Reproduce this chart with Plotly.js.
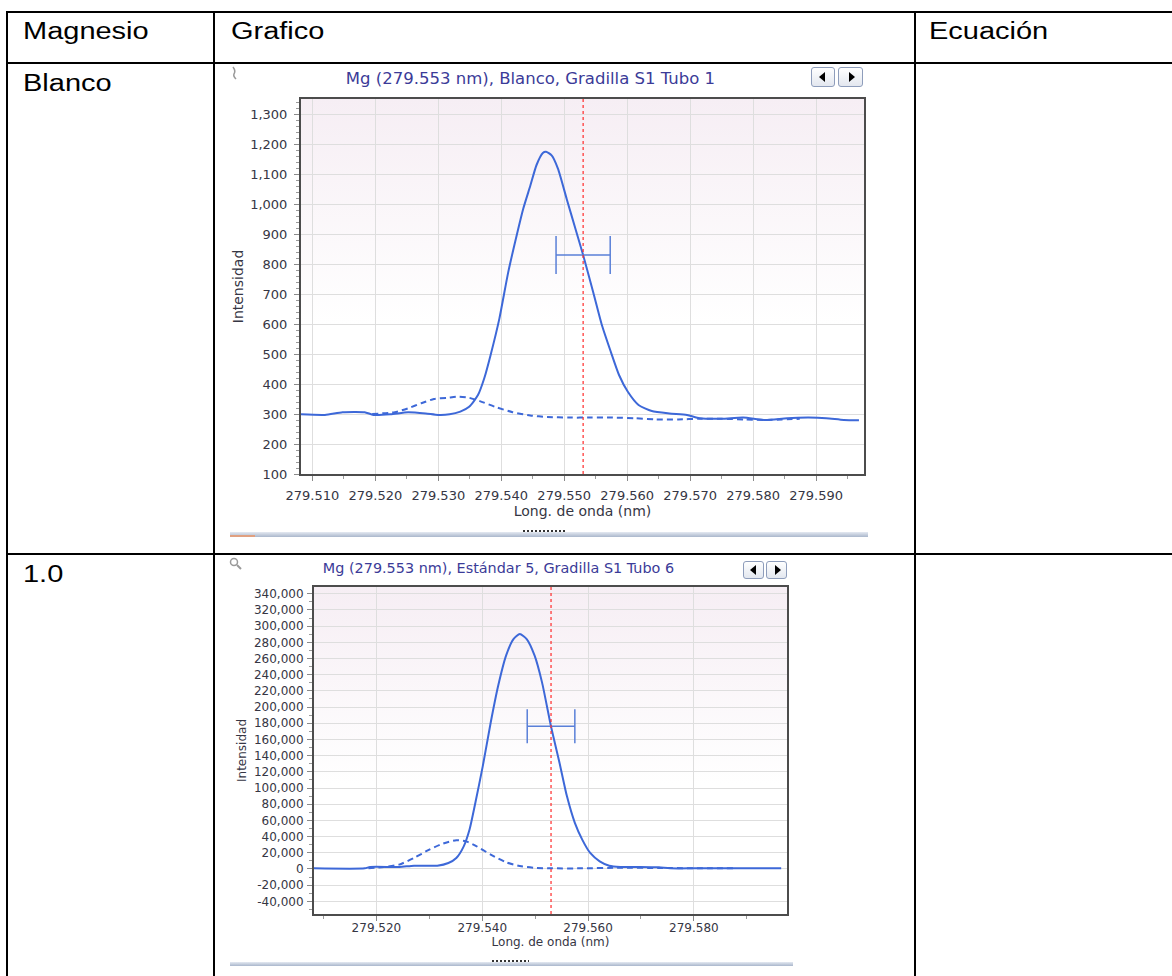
<!DOCTYPE html>
<html>
<head>
<meta charset="utf-8">
<script src="https://cdn.plot.ly/plotly-3.0.1.min.js"></script>
<style>
  html, body { margin:0; padding:0; background:#fff; }
  body { width:1172px; height:976px; overflow:hidden; position:relative; font-family:"Liberation Sans", Arial, sans-serif; }
  .ln { position:absolute; background:#000; }
  .tx { position:absolute; font-size:23px; line-height:23px; color:#000; white-space:nowrap; transform:scaleX(1.26); transform-origin:0 0; }
  .chart { position:absolute; }
  .btn { position:absolute; box-sizing:border-box; border:1px solid #8e9dbb; border-radius:3px;
         background:linear-gradient(#ffffff,#e3e7ef); }
  .tri-l, .tri-r { position:absolute; width:0; height:0; top:50%; left:50%; }
  .tri-l { border-top:5px solid transparent; border-bottom:5px solid transparent; border-right:6px solid #000; margin:-5px 0 0 -4px; }
  .tri-r { border-top:5px solid transparent; border-bottom:5px solid transparent; border-left:6px solid #000; margin:-5px 0 0 -2px; }
  .bar { position:absolute; background:linear-gradient(#e4e9f1,#aab7cc); }
  .grip { position:absolute; height:2px; background:repeating-linear-gradient(90deg,#333 0 2px,transparent 2px 4px); }
  .mag { position:absolute; }
</style>
</head>
<body>
<!-- table grid -->
<div class="ln" style="left:6px; top:11px; width:1166px; height:2px;"></div>
<div class="ln" style="left:6px; top:11px; width:2px; height:965px;"></div>
<div class="ln" style="left:213px; top:11px; width:2px; height:965px;"></div>
<div class="ln" style="left:914px; top:11px; width:2px; height:965px;"></div>
<div class="ln" style="left:6px; top:62px; width:1166px; height:2px;"></div>
<div class="ln" style="left:6px; top:553px; width:1166px; height:2px;"></div>

<div class="tx" style="left:23px; top:20px;">Magnesio</div>
<div class="tx" style="left:231px; top:20px;">Grafico</div>
<div class="tx" style="left:929px; top:20px;">Ecuación</div>
<div class="tx" style="left:23px; top:72px;">Blanco</div>
<div class="tx" style="left:23px; top:563px;">1.0</div>

<!-- chart 1 decorations -->
<svg class="mag" style="left:229px; top:66px;" width="12" height="14"><path d="M4 1 Q7 5 5 8 Q4 10 7 13" stroke="#9a9a9a" stroke-width="1.5" fill="none"/></svg>
<div id="c1" class="chart" style="left:230px; top:63px; width:640px; height:480px;"></div>
<div class="btn" style="left:811px; top:67px; width:24px; height:20px;"><div class="tri-l"></div></div>
<div class="btn" style="left:838px; top:67px; width:25px; height:20px;"><div class="tri-r"></div></div>
<div class="bar" style="left:230px; top:532px; width:638px; height:5px;"></div>
<div style="position:absolute; left:230px; top:535px; width:25px; height:2px; background:#e0a080;"></div>
<div class="grip" style="left:523px; top:530px; width:43px;"></div>

<!-- chart 2 decorations -->
<svg class="mag" style="left:229px; top:557px;" width="14" height="14"><circle cx="5" cy="5" r="3.5" stroke="#9a9a9a" stroke-width="1.5" fill="none"/><path d="M8 8 L12 12" stroke="#9a9a9a" stroke-width="2"/></svg>
<div id="c2" class="chart" style="left:230px; top:556px; width:565px; height:420px;"></div>
<div class="btn" style="left:743px; top:561px; width:21px; height:18px;"><div class="tri-l"></div></div>
<div class="btn" style="left:766px; top:561px; width:21px; height:18px;"><div class="tri-r"></div></div>
<div class="bar" style="left:230px; top:962px; width:563px; height:4px;"></div>
<div class="grip" style="left:492px; top:960px; width:37px;"></div>

<script>
// ---------------- DATA ----------------
const centerWl = 279.553;

// Blanco (Gradilla S1 Tubo 1)
const blancoWl = [279.5082, 279.5120, 279.5148, 279.5183, 279.5197, 279.5224, 279.5252, 279.5280, 279.5300, 279.5318,
                  279.5335, 279.5349, 279.5363, 279.5373, 279.5383, 279.5397, 279.5411, 279.5425, 279.5435, 279.5446,
                  279.5456, 279.5466, 279.5471, 279.5480, 279.5490, 279.5504, 279.5518, 279.5530, 279.5546, 279.5560,
                  279.5574, 279.5587, 279.5601, 279.5618, 279.5639, 279.5667, 279.5695, 279.5715, 279.5750, 279.5784,
                  279.5819, 279.5854, 279.5888, 279.5916, 279.5944, 279.5968];
const blancoInt = [299, 297, 306, 306, 297, 299, 306, 302, 297, 299,
                   308, 324, 363, 419, 496, 618, 772, 900, 985, 1060,
                   1130, 1170, 1174, 1162, 1118, 1016, 916, 830, 706, 595,
                   507, 430, 374, 330, 310, 302, 297, 286, 284, 288,
                   280, 286, 288, 286, 280, 279];
const blancoFitWl = [279.5195, 279.5231, 279.5252, 279.5273, 279.5293, 279.5314, 279.5331, 279.5349, 279.5366, 279.5390,
                     279.5418, 279.5446, 279.5473, 279.5508, 279.5542, 279.5577, 279.5612, 279.5646, 279.5681, 279.5715,
                     279.5750, 279.5785, 279.5819, 279.5874];
const blancoFitInt = [300, 306, 319, 336, 350, 354, 358, 354, 343, 324,
                      306, 295, 290, 288, 288, 288, 286, 282, 282, 284,
                      284, 282, 280, 284];
const blancoMarkInt = [830];
const blancoMarkHalf = [0.0043];
const blancoXTicks = [279.510, 279.520, 279.530, 279.540, 279.550, 279.560, 279.570, 279.580, 279.590];
const blancoYTicks = [100, 200, 300, 400, 500, 600, 700, 800, 900, 1000, 1100, 1200, 1300];

// Estándar 5 (Gradilla S1 Tubo 6)
const stdWl = [279.5082, 279.5178, 279.5188, 279.5243, 279.5271, 279.5315, 279.5336, 279.5351, 279.5365, 279.5376,
               279.5387, 279.5401, 279.5416, 279.5430, 279.5445, 279.5459, 279.5471, 279.5484, 279.5499, 279.5513,
               279.5530, 279.5546, 279.5560, 279.5575, 279.5589, 279.5604, 279.5622, 279.5640, 279.5661, 279.5697,
               279.5734, 279.5755, 279.5806, 279.5965];
const stdInt = [800, 800, 2500, 2500, 4100, 4100, 7400, 13600, 28000, 48700,
                81800, 127000, 181000, 226000, 263500, 284000, 290300, 284000, 263500, 230500,
                176000, 131300, 90000, 57000, 36300, 19800, 9500, 4100, 2500, 2500,
                2000, 800, 800, 800];
const stdFitWl = [279.5185, 279.5214, 279.5243, 279.5271, 279.5300, 279.5326, 279.5351, 279.5369, 279.5387, 279.5416,
                  279.5445, 279.5474, 279.5503, 279.5531, 279.5589, 279.5661, 279.5734, 279.5878];
const stdFitInt = [800, 2500, 5400, 13600, 24000, 31400, 35500, 34300, 28900, 17800,
                   8300, 3300, 1200, 800, 800, 1600, 1200, 800];
const stdMarkInt = [176400];
const stdMarkHalf = [0.0045];
const stdXTicks = [279.520, 279.540, 279.560, 279.580];
const stdYTicks = [-40000, -20000, 0, 20000, 40000, 60000, 80000, 100000, 120000, 140000, 160000, 180000,
                   200000, 220000, 240000, 260000, 280000, 300000, 320000, 340000];

// ---------------- HELPERS ----------------
const fmtThousands = v => (v < 0 ? '-' : '') + Math.abs(v).toString().replace(/\B(?=(\d{3})+(?!\d))/g, ',');
const BLUE = '#3d68d8';
const BAR_BLUE = '#5a80d8';
const TXT = '#363644';
const FONT = '"DejaVu Sans", Verdana, sans-serif';

const bgSvg = '<svg xmlns="http://www.w3.org/2000/svg" width="10" height="100" viewBox="0 0 10 100" preserveAspectRatio="none">' +
  '<defs><linearGradient id="g" x1="0" y1="0" x2="0" y2="1"><stop offset="0" stop-color="#f6eef4"/>' +
  '<stop offset="0.6" stop-color="#ffffff"/></linearGradient></defs><rect width="10" height="100" fill="url(#g)"/></svg>';
const bgSrc = 'data:image/svg+xml;charset=utf-8,' + encodeURIComponent(bgSvg);

function build(div, o) {
  const traces = [
    { x: o.wl, y: o.inten, type: 'scatter', mode: 'lines',
      line: { color: BLUE, width: 2, shape: 'spline', smoothing: 0.6 }, hoverinfo: 'skip' },
    { x: o.fitWl, y: o.fitInt, type: 'scatter', mode: 'lines',
      line: { color: BLUE, width: 2, dash: '6px,4px', shape: 'spline', smoothing: 0.6 }, hoverinfo: 'skip' },
    { x: [centerWl], y: o.markInt, type: 'scatter', mode: 'markers',
      marker: { size: 1, color: 'rgba(0,0,0,0)' },
      error_x: { type: 'data', array: o.markHalf, visible: true, color: BAR_BLUE, thickness: 1.5, width: o.capW },
      hoverinfo: 'skip' }
  ];
  const layout = {
    width: o.w, height: o.h,
    margin: o.margin,
    paper_bgcolor: 'rgba(0,0,0,0)',
    plot_bgcolor: 'rgba(0,0,0,0)',
    showlegend: false,
    title: { text: o.title, x: o.tx, y: o.ty, xref: 'container', yref: 'container',
             xanchor: 'center', yanchor: 'middle', font: { family: FONT, size: o.titleSize, color: '#3b3b98' } },
    font: { family: FONT, color: TXT },
    xaxis: {
      range: [279.5082, 279.5976], tickmode: 'array', tickvals: o.xTicks, ticktext: o.xTicks.map(v => v.toFixed(3)),
      showgrid: true, gridcolor: '#dedede', gridwidth: 1, zeroline: false,
      showline: true, linecolor: '#4c4c4c', linewidth: 2, mirror: true,
      ticks: 'outside', ticklen: 5, tickcolor: '#8a8a8a', tickwidth: 1,
      minor: { dtick: o.xMinor, tick0: 279.5, ticks: 'outside', ticklen: 3, tickcolor: '#9a9a9a', showgrid: false },
      tickfont: { family: FONT, size: o.tickSize, color: TXT },
      ticklabelstandoff: o.xLabStand,
      title: { text: 'Long. de onda (nm)', standoff: o.xTitleStand, font: { family: FONT, size: o.axTitleSize, color: TXT } }
    },
    yaxis: {
      range: o.yRange, tickmode: 'array', tickvals: o.yTicks, ticktext: o.yTicks.map(fmtThousands),
      showgrid: true, gridcolor: '#dedede', gridwidth: 1, zeroline: false,
      showline: true, linecolor: '#4c4c4c', linewidth: 2, mirror: true,
      ticks: 'outside', ticklen: 5, tickcolor: '#8a8a8a', tickwidth: 1,
      minor: { dtick: o.yMinor, tick0: 0, ticks: 'outside', ticklen: 3, tickcolor: '#9a9a9a', showgrid: false },
      tickfont: { family: FONT, size: o.tickSize, color: TXT },
      ticklabelstandoff: o.yLabStand,
      title: { text: 'Intensidad', standoff: o.yTitleStand, font: { family: FONT, size: o.axTitleSize, color: TXT } }
    },
    shapes: [
      { type: 'line', xref: 'x', yref: 'paper', x0: centerWl, x1: centerWl, y0: 0, y1: 1,
        line: { color: '#ff2a2a', width: 1.2, dash: 'dot' } }
    ],
    images: [
      { source: bgSrc, xref: 'paper', yref: 'paper', x: 0, y: 1, sizex: 1, sizey: 1,
        xanchor: 'left', yanchor: 'top', sizing: 'stretch', layer: 'below' }
    ]
  };
  Plotly.newPlot(div, traces, layout, { staticPlot: true, displayModeBar: false });
}

build('c1', {
  w: 640, h: 480, margin: { l: 71, r: 6, t: 36, b: 69 },
  title: 'Mg (279.553 nm), Blanco, Gradilla S1 Tubo 1', tx: 0.4695, ty: 0.968, titleSize: 16.5,
  wl: blancoWl, inten: blancoInt, fitWl: blancoFitWl, fitInt: blancoFitInt,
  markInt: blancoMarkInt, markHalf: blancoMarkHalf, capW: 19,
  xTicks: blancoXTicks, yTicks: blancoYTicks, yRange: [100, 1350],
  xMinor: 0.005, yMinor: 20, tickSize: 13, axTitleSize: 14,
  xLabStand: 3, yLabStand: 4, xTitleStand: 4, yTitleStand: 11
});

build('c2', {
  w: 565, h: 420, margin: { l: 84, r: 8, t: 31, b: 62 },
  title: 'Mg (279.553 nm), Estándar 5, Gradilla S1 Tubo 6', tx: 0.4752, ty: 0.9714, titleSize: 14.4,
  wl: stdWl, inten: stdInt, fitWl: stdFitWl, fitInt: stdFitInt,
  markInt: stdMarkInt, markHalf: stdMarkHalf, capW: 17,
  xTicks: stdXTicks, yTicks: stdYTicks, yRange: [-55600, 348300],
  xMinor: 0.01, yMinor: 10000, tickSize: 12, axTitleSize: 12,
  xLabStand: -3, yLabStand: 1, xTitleStand: 3, yTitleStand: 5
});
</script>
</body>
</html>
